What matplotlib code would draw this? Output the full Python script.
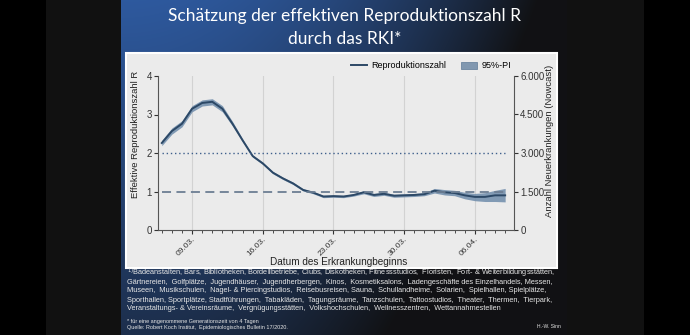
import matplotlib
matplotlib.use("Agg")
import matplotlib.pyplot as plt
import matplotlib.dates as mdates
from matplotlib.lines import Line2D
from matplotlib.patches import Patch, Rectangle
from matplotlib.ticker import FuncFormatter
import numpy as np
import pandas as pd

# --- data ---
dates = pd.date_range("2020-03-06", "2020-04-09", freq="D")
r_value = [2.26, 2.57, 2.76, 3.15, 3.30, 3.33, 3.15, 2.76, 2.33, 1.92,
           1.73, 1.49, 1.34, 1.21, 1.04, 0.97, 0.87, 0.88, 0.87, 0.91,
           0.98, 0.91, 0.94, 0.89, 0.90, 0.91, 0.93, 1.02, 0.98, 0.96,
           0.90, 0.86, 0.86, 0.90, 0.90]
r_upper = [2.33, 2.65, 2.84, 3.23, 3.38, 3.41, 3.23, 2.82, 2.37, 1.95,
           1.76, 1.52, 1.37, 1.24, 1.07, 1.00, 0.90, 0.91, 0.90, 0.94,
           1.02, 0.95, 0.98, 0.93, 0.94, 0.95, 0.97, 1.08, 1.05, 1.03,
           0.98, 0.95, 0.97, 1.03, 1.08]
r_lower = [2.19, 2.49, 2.68, 3.07, 3.22, 3.25, 3.07, 2.70, 2.29, 1.89,
           1.70, 1.46, 1.31, 1.18, 1.01, 0.94, 0.84, 0.85, 0.84, 0.88,
           0.94, 0.87, 0.90, 0.85, 0.86, 0.87, 0.89, 0.96, 0.91, 0.89,
           0.81, 0.76, 0.74, 0.74, 0.73]
ref_levels = [1, 2]
right_ticks = [0, 1500, 3000, 4500, 6000]

title_lines = ["Schätzung der effektiven Reproduktionszahl R", "durch das RKI*"]
footnote_lines = [
    r"$^{1)}$Badeanstalten, Bars, Bibliotheken, Bordellbetriebe, Clubs, Diskotheken, Fitnessstudios,  Floristen,  Fort- & Weiterbildungsstätten,",
    "Gärtnereien,  Golfplätze,  Jugendhäuser,  Jugendherbergen,  Kinos,  Kosmetiksalons,  Ladengeschäfte des Einzelhandels, Messen,",
    "Museen,  Musikschulen,  Nagel- & Piercingstudios,  Reisebusreisen, Sauna,  Schullandheime,  Solarien,  Spielhallen, Spielplätze,",
    "Sporthallen, Sportplätze, Stadtführungen,  Tabakläden,  Tagungsräume,  Tanzschulen,  Tattoostudios,  Theater,  Thermen,  Tierpark,",
    "Veranstaltungs- & Vereinsräume,  Vergnügungsstätten,  Volkshochschulen,  Wellnesszentren,  Wettannahmestellen",
]
note_line = "* für eine angenommene Generationszeit von 4 Tagen"
source_line = "Quelle: Robert Koch Institut,  Epidemiologisches Bulletin 17/2020."

W, H = 690, 335
plt.rcParams["font.family"] = ["Liberation Sans", "DejaVu Sans"]
fig = plt.figure(figsize=(W / 100, H / 100), dpi=100)


def box(x0, y0, x1, y1):
    # pixel box -> figure fraction
    return [x0 / W, 1 - y1 / H, (x1 - x0) / W, (y1 - y0) / H]


# background: black frame + slide gradient
img = np.zeros((H, W, 3))
img[:, 46:644] = 0.067
xx, yy = np.meshgrid(np.arange(121, 567), np.arange(H))
t = (xx - 121) / 446.0
m = np.clip(1.15 * t ** 2.0 + 0.6 * yy / H, 0, 1)
blue = np.array([0.18, 0.35, 0.62])
dark = np.array([0.067, 0.07, 0.08])
img[:, 121:567] = blue * (1 - m[..., None]) + dark * m[..., None]

bg = fig.add_axes([0, 0, 1, 1])
bg.imshow(img, extent=(0, W, H, 0), aspect="auto")
bg.set_xlim(0, W)
bg.set_ylim(H, 0)
bg.axis("off")
bg.add_patch(Rectangle((126, 53), 431, 215, facecolor="#ebebeb", edgecolor="white", lw=1.5))

bg.text(345, 16, title_lines[0], color="white", fontsize=12.5, family="Lato", ha="center", va="center")
bg.text(345, 39, title_lines[1], color="white", fontsize=12.5, family="Lato", ha="center", va="center")

# main axes
ax = fig.add_axes(box(158, 76, 514, 230))
ax.patch.set_alpha(0)
line_col = "#2c4866"
ax.fill_between(dates, r_lower, r_upper, color="#6f8cab", alpha=0.85, lw=0)
ax.plot(dates, r_value, color=line_col, lw=1.4)
ax.hlines(ref_levels[1], dates[0], dates[-1], colors="#3e5f8c", linestyles=(0, (1, 2)), lw=1.0)
ax.hlines(ref_levels[0], dates[0], dates[-1], colors="#6c7e93", linestyles=(0, (5, 3)), lw=1.3)

ax.set_ylim(0, 4)
ax.set_yticks([0, 1, 2, 3, 4])
ax.set_xlim(pd.Timestamp("2020-03-05 15:00"), pd.Timestamp("2020-04-09 21:00"))
ax.xaxis.set_major_locator(mdates.WeekdayLocator(byweekday=mdates.MO))
ax.xaxis.set_minor_locator(mdates.DayLocator())
ax.xaxis.set_major_formatter(mdates.DateFormatter("%d.%m."))
ax.grid(axis="x", which="major", color="#d2d2d2", lw=0.8)
ax.set_axisbelow(True)
for lab in ax.get_xticklabels():
    lab.set_rotation(45)
    lab.set_ha("right")
    lab.set_rotation_mode("anchor")
ax.tick_params(axis="x", which="major", length=3, labelsize=6, colors="#333333", pad=1)
ax.tick_params(axis="x", which="minor", length=2, colors="#333333")
ax.tick_params(axis="y", length=3, labelsize=7, colors="#333333", pad=1.5)
for s in ["top", "right"]:
    ax.spines[s].set_visible(False)
for s in ["left", "bottom"]:
    ax.spines[s].set_color("#555555")
    ax.spines[s].set_linewidth(0.8)

ax2 = ax.twinx()
ax2.set_ylim(0, 6000)
ax2.set_yticks(right_ticks)
ax2.yaxis.set_major_formatter(FuncFormatter(lambda v, p: f"{int(v):,}".replace(",", ".")))
ax2.tick_params(axis="y", length=3, labelsize=7, colors="#333333", pad=1.5)
for s in ["top", "left", "bottom"]:
    ax2.spines[s].set_visible(False)
ax2.spines["right"].set_color("#555555")
ax2.spines["right"].set_linewidth(0.8)

# axis titles
bg.text(135, 134, "Effektive Reproduktionszahl R", rotation=90, fontsize=6.8, color="#222222",
        ha="center", va="center")
bg.text(549, 141, "Anzahl Neuerkrankungen (Nowcast)", rotation=90, fontsize=6.8, color="#222222",
        ha="center", va="center")
bg.text(339, 262, "Datum des Erkrankungbeginns", fontsize=7.2, color="#222222", ha="center", va="center")

# legend
handles = [Line2D([0], [0], color=line_col, lw=1.4),
           Patch(facecolor="#8198b0", edgecolor="#6d86a0", lw=0.6)]
fig.legend(handles, ["Reproduktionszahl", "95%-PI"], loc="center", bbox_to_anchor=(431 / W, 1 - 66 / H),
           ncol=2, frameon=False, fontsize=6.5, handlelength=1.8, handletextpad=0.5, columnspacing=1.6,
           borderpad=0)

# footnotes
for i, txt in enumerate(footnote_lines):
    bg.text(127, 273 + 9 * i, txt, fontsize=5.3, color="#e6e6e6", ha="left", va="center")
bg.text(127, 321, note_line, fontsize=4.0, color="#e6e6e6", ha="left", va="center")
bg.text(127, 328, source_line, fontsize=4.0, color="#e6e6e6", ha="left", va="center")
bg.text(549, 327, "H.-W. Sinn", fontsize=3.6, color="#e6e6e6", ha="center", va="center")

fig.savefig("out.png", dpi=100)
